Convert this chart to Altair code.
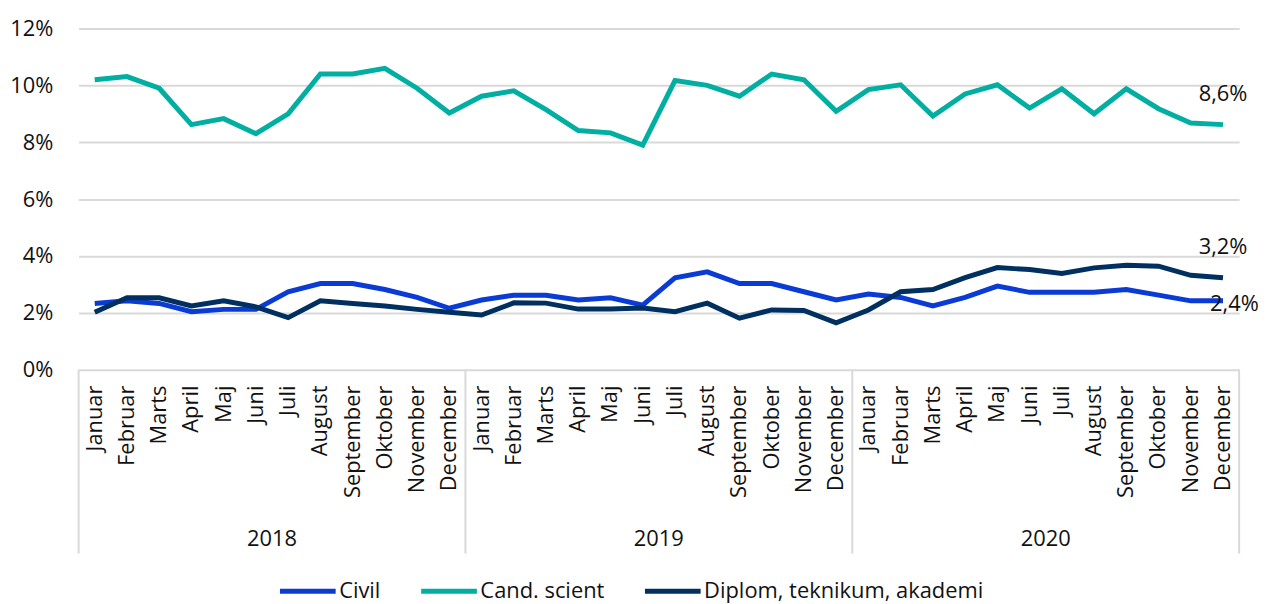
import altair as alt
import pandas as pd

months = ["Januar", "Februar", "Marts", "April", "Maj", "Juni", "Juli",
          "August", "September", "Oktober", "November", "December"]
years = ["2018", "2019", "2020"]
series = ["Civil", "Cand. scient", "Diplom, teknikum, akademi"]
colors = ["#0a3bd4", "#00afa2", "#00305f"]

civil = [2.33, 2.42, 2.33, 2.04, 2.12, 2.12, 2.74, 3.03, 3.03, 2.82, 2.54, 2.16,
         2.45, 2.62, 2.62, 2.45, 2.53, 2.27, 3.23, 3.44, 3.03, 3.03, 2.74, 2.45,
         2.66, 2.54, 2.24, 2.54, 2.94, 2.72, 2.72, 2.72, 2.82, 2.62, 2.42, 2.42]
cand = [10.2, 10.31, 9.9, 8.62, 8.83, 8.3, 9.0, 10.4, 10.4, 10.6, 9.9, 9.03,
        9.62, 9.81, 9.15, 8.41, 8.33, 7.9, 10.17, 10.0, 9.62, 10.4, 10.2, 9.09,
        9.85, 10.02, 8.92, 9.7, 10.02, 9.2, 9.88, 9.0, 9.88, 9.18, 8.68, 8.62]
diplom = [2.02, 2.53, 2.53, 2.24, 2.42, 2.21, 1.83, 2.42, 2.33, 2.24, 2.12, 2.02,
          1.92, 2.35, 2.34, 2.13, 2.13, 2.17, 2.04, 2.34, 1.81, 2.1, 2.08, 1.65,
          2.1, 2.74, 2.82, 3.24, 3.59, 3.52, 3.38, 3.58, 3.67, 3.64, 3.32, 3.23]
y_ticks = [0, 2, 4, 6, 8, 10, 12]

rows = []
for s, vals in zip(series, [civil, cand, diplom]):
    for i, v in enumerate(vals):
        rows.append({"idx": i, "month": months[i % 12], "year": years[i // 12],
                     "series": s, "value": v})
df = pd.DataFrame(rows)
months_df = pd.DataFrame({"idx": list(range(36)),
                          "month": [months[i % 12] for i in range(36)]})
year_df = pd.DataFrame({"idx": [5.5, 17.5, 29.5], "year": years})
sep_df = pd.DataFrame({"idx": [-0.5, 11.5, 23.5, 35.5]})

W, H = 1167, 343
FONT = "Open Sans"
FS = 22
TXT = "#111111"
xscale = alt.Scale(domain=[-0.5, 35.5], nice=False, zero=False)
yscale = alt.Scale(domain=[0, 12], nice=False)
X = alt.X("idx:Q", scale=xscale, axis=None)

lines = alt.Chart(df).mark_line(strokeWidth=5).encode(
    x=X,
    y=alt.Y("value:Q", scale=yscale,
            axis=alt.Axis(values=y_ticks, labelExpr="datum.value + '%'", grid=True,
                          gridColor="#d9d9d9", gridWidth=2, domain=False, ticks=False,
                          labelFontSize=FS, labelPadding=26, title=None,
                          labelColor=TXT, labelFont=FONT)),
    color=alt.Color("series:N", scale=alt.Scale(domain=series, range=colors),
                    legend=alt.Legend(orient="none", legendX=200, legendY=535,
                                      direction="horizontal", symbolType="stroke",
                                      symbolStrokeWidth=5, symbolSize=3136,
                                      labelFontSize=FS, labelFont=FONT, labelColor=TXT,
                                      labelLimit=500, columnPadding=30, labelOffset=1,
                                      title=None)),
)

month_text = alt.Chart(months_df).mark_text(
    angle=270, align="right", baseline="middle", fontSize=FS, font=FONT, color=TXT
).encode(x=X, y=alt.value(H + 16), text="month:N")

year_text = alt.Chart(year_df).mark_text(
    align="center", baseline="middle", fontSize=FS, font=FONT, color=TXT
).encode(x=X, y=alt.value(H + 170), text="year:N")

seps = alt.Chart(sep_df).mark_rule(color="#d9d9d9", strokeWidth=2).encode(
    x=X, y=alt.value(H), y2=alt.value(H + 185))

label_expr = "replace(format(datum.value, '.1f'), '.', ',') + '%'"
end_above = alt.Chart(df).transform_filter(
    "datum.idx == 35 && datum.series != 'Civil'").transform_calculate(
    lab=label_expr).mark_text(
    align="center", baseline="middle", dy=-31, fontSize=FS, font=FONT, color=TXT
).encode(x=X, y=alt.Y("value:Q", scale=yscale), text="lab:N")
end_right = alt.Chart(df).transform_filter(
    "datum.idx == 35 && datum.series == 'Civil'").transform_calculate(
    lab=label_expr).mark_text(
    align="left", baseline="middle", dx=-13, dy=3, fontSize=FS, font=FONT, color=TXT
).encode(x=X, y=alt.Y("value:Q", scale=yscale), text="lab:N")

chart = alt.layer(seps, lines, month_text, year_text, end_above, end_right).properties(
    width=W, height=H,
    background="white",
    autosize=alt.AutoSizeParams(type="none"),
    padding={"left": 71, "top": 19, "right": 22, "bottom": 234},
).configure_view(stroke=None)

chart.save("out.html", embed_options={"renderer": "svg", "actions": False})
